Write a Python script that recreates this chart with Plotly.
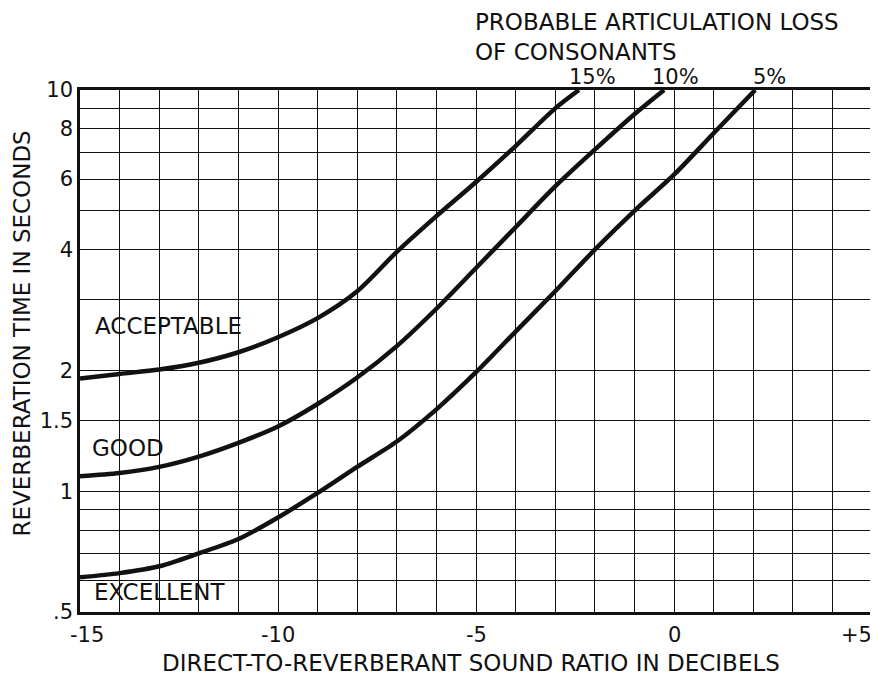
import plotly.graph_objects as go

FONT = "DejaVu Sans, Liberation Sans, sans-serif"
INK = "#111111"

# curves (dB, seconds)
acceptable_x = [-15, -14, -13, -12, -11, -10, -9, -8, -7, -6, -5, -4, -3, -2.4]
acceptable_y = [1.91, 1.96, 2.01, 2.09, 2.22, 2.42, 2.7, 3.15, 3.95, 4.85, 5.9, 7.25, 9.0, 10]

good_x = [-15, -14, -13, -12, -11, -10, -9, -8, -7, -6, -5, -4, -3, -2, -1, -0.25]
good_y = [1.09, 1.11, 1.15, 1.22, 1.32, 1.45, 1.65, 1.92, 2.3, 2.85, 3.6, 4.55, 5.75, 7.1, 8.7, 10]

excellent_x = [-15, -14, -13, -12, -11, -10, -9, -8, -7, -6, -5, -4, -3, -2, -1, 0, 1, 2.05]
excellent_y = [0.61, 0.625, 0.65, 0.70, 0.76, 0.86, 0.99, 1.15, 1.33, 1.6, 1.98, 2.5, 3.15, 4, 5, 6.15, 7.8, 10]

x_ticks = list(range(-15, 6))
x_labels = {-15: "-15", -10: "-10", -5: "-5", 0: "0", 5: "+5"}
y_ticks = [0.5, 0.6, 0.7, 0.8, 0.9, 1, 1.5, 2, 3, 4, 5, 6, 7, 8, 9, 10]
y_labels = {0.5: ".5", 1: "1", 1.5: "1.5", 2: "2", 4: "4", 6: "6", 8: "8", 10: "10"}

curve_names = ["15%", "10%", "5%"]
curve_labels = ["ACCEPTABLE", "GOOD", "EXCELLENT"]

fig = go.Figure()
for xs, ys, name in zip(
    [acceptable_x, good_x, excellent_x],
    [acceptable_y, good_y, excellent_y],
    curve_names,
):
    fig.add_trace(
        go.Scatter(
            x=xs,
            y=ys,
            name=name,
            mode="lines",
            line=dict(color=INK, width=4.5, shape="spline", smoothing=0.8),
            showlegend=False,
        )
    )

axis_style = dict(
    showgrid=True,
    gridcolor=INK,
    gridwidth=1.4,
    zeroline=False,
    showline=True,
    linecolor=INK,
    linewidth=2.5,
    mirror=True,
    ticks="",
    tickfont=dict(size=21, color=INK),
    automargin=False,
)
# x labels are drawn as annotations below so the end ones can sit inside the page
fig.update_xaxes(
    range=[-15, 5],
    tickvals=x_ticks,
    showticklabels=False,
    **axis_style,
)
fig.update_yaxes(
    type="log",
    range=[-0.30103, 1],
    tickvals=y_ticks,
    ticktext=[y_labels.get(v, "") for v in y_ticks],
    **axis_style,
)

text_font = dict(size=23, color=INK)
num_font = dict(size=21, color=INK)

label_shift = {-15: 7, 5: -16}
for v, label in x_labels.items():
    fig.add_annotation(
        x=v, y=-0.044, xref="x", yref="paper", xanchor="center", yanchor="middle",
        xshift=label_shift.get(v, 0), text=label, showarrow=False, font=num_font,
    )

# axis titles
fig.add_annotation(
    x=0.494, y=-0.098, xref="paper", yref="paper",
    xanchor="center", yanchor="middle",
    text="DIRECT-TO-REVERBERANT SOUND RATIO IN DECIBELS",
    showarrow=False, font=text_font,
)
fig.add_annotation(
    x=-0.073, y=0.534, xref="paper", yref="paper", textangle=-90,
    xanchor="center", yanchor="middle",
    text="REVERBERATION TIME IN SECONDS",
    showarrow=False, font=text_font,
)

# curve labels
for x, y, label in zip([-14.67, -14.75, -14.7], [0.413, 0.107, -0.252], curve_labels):
    fig.add_annotation(
        x=x, y=y, xref="x", yref="y", xanchor="left", yanchor="middle",
        text=label, showarrow=False, font=text_font,
    )

# articulation loss labels above the frame
for x, name in zip([-2.05, 0.03, 2.42], curve_names):
    fig.add_annotation(
        x=x, y=1.025, xref="x", yref="paper", xanchor="center", yanchor="middle",
        text=name, showarrow=False, font=num_font,
    )

fig.add_annotation(
    x=-5.08, y=1.13, xref="x", yref="paper", xanchor="left", yanchor="middle",
    text="PROBABLE ARTICULATION LOSS", showarrow=False, font=text_font,
)
fig.add_annotation(
    x=-5.08, y=1.073, xref="x", yref="paper", xanchor="left", yanchor="middle",
    text="OF CONSONANTS", showarrow=False, font=text_font,
)

# page body adds an 8px offset, so the margins are pulled in by 8px
fig.update_layout(
    width=878,
    height=675,
    margin=dict(l=72, r=14, t=82, b=71, autoexpand=False),
    plot_bgcolor="white",
    paper_bgcolor="white",
    font_family=FONT,
)

fig.write_html("out.html")
